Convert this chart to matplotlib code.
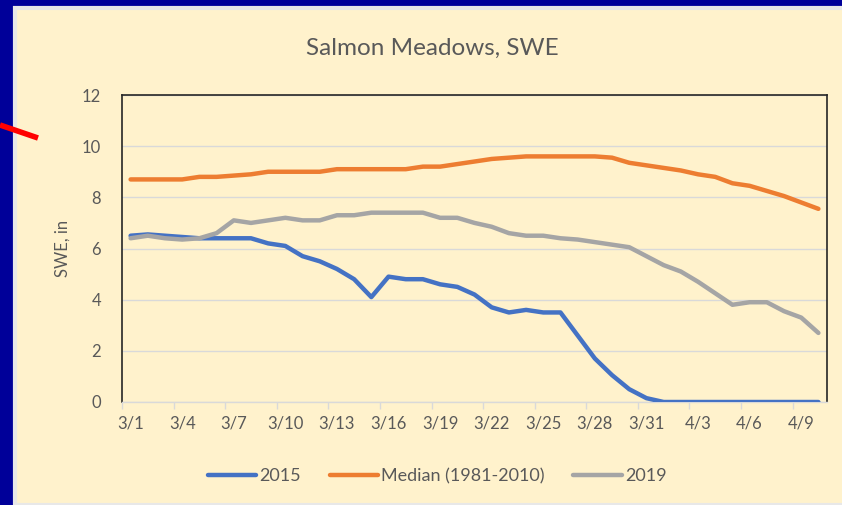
import matplotlib
matplotlib.use("Agg")
import matplotlib.pyplot as plt
from matplotlib.patches import Rectangle
from matplotlib.lines import Line2D

# daily SWE (inches), 3/1 .. 4/10
dates = ["3/1", "3/2", "3/3", "3/4", "3/5", "3/6", "3/7", "3/8", "3/9", "3/10",
         "3/11", "3/12", "3/13", "3/14", "3/15", "3/16", "3/17", "3/18", "3/19", "3/20",
         "3/21", "3/22", "3/23", "3/24", "3/25", "3/26", "3/27", "3/28", "3/29", "3/30",
         "3/31", "4/1", "4/2", "4/3", "4/4", "4/5", "4/6", "4/7", "4/8", "4/9", "4/10"]

swe_2015 = [6.5, 6.55, 6.5, 6.45, 6.4, 6.4, 6.4, 6.4, 6.2, 6.1,
            5.7, 5.5, 5.2, 4.8, 4.1, 4.9, 4.8, 4.8, 4.6, 4.5,
            4.2, 3.7, 3.5, 3.6, 3.5, 3.5, 2.6, 1.7, 1.05, 0.5,
            0.15, 0.0, 0.0, 0.0, 0.0, 0.0, 0.0, 0.0, 0.0, 0.0, 0.0]

swe_median = [8.7, 8.7, 8.7, 8.7, 8.8, 8.8, 8.85, 8.9, 9.0, 9.0,
              9.0, 9.0, 9.1, 9.1, 9.1, 9.1, 9.1, 9.2, 9.2, 9.3,
              9.4, 9.5, 9.55, 9.6, 9.6, 9.6, 9.6, 9.6, 9.55, 9.35,
              9.25, 9.15, 9.05, 8.9, 8.8, 8.55, 8.45, 8.25, 8.05, 7.8, 7.55]

swe_2019 = [6.4, 6.5, 6.4, 6.35, 6.4, 6.6, 7.1, 7.0, 7.1, 7.2,
            7.1, 7.1, 7.3, 7.3, 7.4, 7.4, 7.4, 7.4, 7.2, 7.2,
            7.0, 6.85, 6.6, 6.5, 6.5, 6.4, 6.35, 6.25, 6.15, 6.05,
            5.7, 5.35, 5.1, 4.7, 4.25, 3.8, 3.9, 3.9, 3.55, 3.3, 2.7]

series_names = ["2015", "Median (1981-2010)", "2019"]
series_colors = ["#4472C4", "#ED7D31", "#A5A5A5"]

plt.rcParams["font.family"] = ["Lato", "DejaVu Sans"]
text_col = "#595959"
cream = "#FFF2CC"

fig = plt.figure(figsize=(8.42, 5.05), dpi=100)
fig.patch.set_facecolor("#000099")

# cream chart panel sitting on the blue slide
fig.patches.append(Rectangle((15 / 842, 0), 1, 1 - 8 / 505, transform=fig.transFigure,
                             facecolor=cream, edgecolor="#E8E8E8", linewidth=3, zorder=-2))
# red pointer arrow stub from the slide
fig.lines.append(Line2D([0, 38 / 842], [1 - 125 / 505, 1 - 138 / 505], transform=fig.transFigure,
                        color="#FF0000", linewidth=4, solid_capstyle="butt", zorder=-1))

ax = fig.add_axes([122 / 842, 103 / 505, 705 / 842, 307 / 505])
ax.set_facecolor(cream)

x = list(range(len(dates)))
for vals, name, col in zip([swe_2015, swe_median, swe_2019], series_names, series_colors):
    ax.plot(x, vals, color=col, linewidth=3.2, label=name, solid_capstyle="round", zorder=3)

ax.set_xlim(-0.5, len(dates) - 0.5)
ax.set_ylim(0, 12)
ax.set_yticks(range(0, 13, 2))
ax.yaxis.grid(True, color="#D9D9D9", linewidth=1)
ax.set_axisbelow(True)

ax.set_xticks(x[::3])
ax.set_xticklabels(dates[::3])
ax.set_xticks([i - 0.5 for i in range(0, len(dates), 3)], minor=True)
ax.tick_params(axis="x", which="major", length=0, pad=10, labelsize=12, labelcolor=text_col)
ax.tick_params(axis="x", which="minor", length=5, color="#D9D9D9", width=1)
ax.tick_params(axis="y", length=0, pad=15, labelsize=12, labelcolor=text_col)

for side in ["left", "top", "right"]:
    ax.spines[side].set_color("#262626")
    ax.spines[side].set_linewidth(1.2)
ax.spines["bottom"].set_color("#D9D9D9")
ax.spines["bottom"].set_linewidth(1)

ax.set_ylabel("SWE, in", color=text_col, fontsize=12, labelpad=8)
fig.text(0.514, 1 - 48 / 505, "Salmon Meadows, SWE", ha="center", va="center",
         fontsize=17.5, color=text_col)

fig.legend(loc="center", bbox_to_anchor=(0.519, 1 - 476 / 505), ncol=3, frameon=False,
           fontsize=13, labelcolor=text_col, handlelength=2.7, handletextpad=0.15,
           columnspacing=1.6)

fig.savefig("out.png", dpi=100, facecolor=fig.get_facecolor())
